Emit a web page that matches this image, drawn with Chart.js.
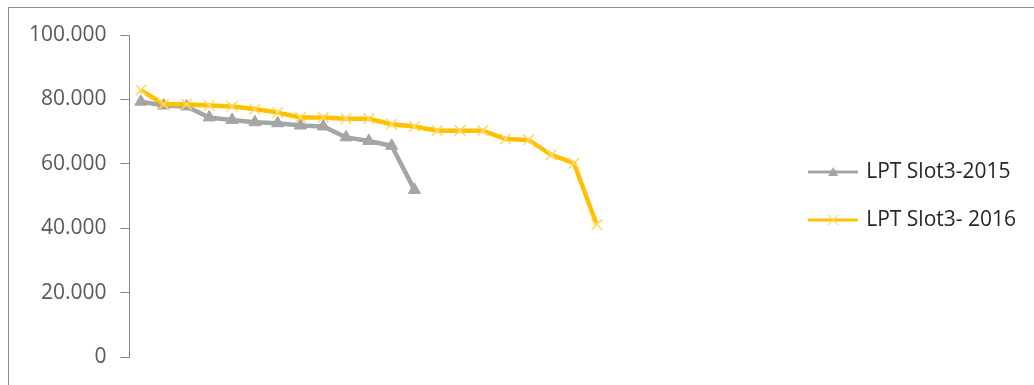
<!DOCTYPE html>
<html>
<head>
<meta charset="utf-8">
<script src="https://cdn.jsdelivr.net/npm/chart.js@4.4.1/dist/chart.umd.min.js"></script>
<style>
  html, body { margin: 0; padding: 0; background: #fff; overflow: hidden; }
  #wrap { position: relative; width: 1034px; height: 385px; }
  #frame { position: absolute; left: 8px; top: 7px; width: 1100px; height: 500px;
           border-top: 1px solid #8c8c8c; border-left: 1px solid #8c8c8c; }
  #chart { position: absolute; left: 0; top: 0; }
</style>
</head>
<body>
<div id="wrap">
  <div id="frame"></div>
  <canvas id="chart" width="1034" height="385"></canvas>
</div>
<script>
// rank positions on the x axis
const categories = [1, 2, 3, 4, 5, 6, 7, 8, 9, 10, 11, 12, 13, 14, 15, 16, 17, 18, 19, 20, 21];

const slot2015 = [79300, 78100, 77800, 74400, 73600, 72900, 72600, 71900, 71600, 68200, 67100, 65600, 51900];
const slot2016 = [82900, 78500, 78500, 78100, 77800, 77000, 75900, 74400, 74400, 74000, 74000,
                  72300, 71600, 70300, 70300, 70300, 67700, 67400, 62800, 60200, 41100];

const seriesNames = ['LPT Slot3-2015', 'LPT Slot3- 2016'];
const yTicks = [0, 20000, 40000, 60000, 80000, 100000];

const GREY   = '#a5a5a5';
const YELLOW = '#ffc000';
const FONT   = "'Open Sans', 'Liberation Sans', sans-serif";

// 12.345 style thousands separator
const fmt = v => String(v).replace(/\B(?=(\d{3})+(?!\d))/g, '.');

const toPoints = vals => vals.map((v, i) => ({ x: categories[i], y: v }));

// small line + marker picture used as the legend symbol
function legendSample(color, marker) {
  const c = document.createElement('canvas');
  c.width = 50; c.height = 16;
  const g = c.getContext('2d');
  g.strokeStyle = color;
  g.lineWidth = 3;
  g.beginPath(); g.moveTo(0, 8); g.lineTo(50, 8); g.stroke();
  if (marker === 'triangle') {
    g.fillStyle = color;
    g.beginPath(); g.moveTo(25, 3); g.lineTo(30, 12); g.lineTo(20, 12); g.closePath(); g.fill();
  } else {
    g.strokeStyle = '#ffd966';
    g.lineWidth = 1.3;
    g.beginPath();
    g.moveTo(20, 3); g.lineTo(30, 13);
    g.moveTo(30, 3); g.lineTo(20, 13);
    g.stroke();
  }
  return c;
}
const samples = [legendSample(GREY, 'triangle'), legendSample(YELLOW, 'cross')];

new Chart(document.getElementById('chart'), {
  type: 'line',
  data: {
    datasets: [
      {
        label: seriesNames[0],
        data: toPoints(slot2015),
        borderColor: GREY,
        backgroundColor: GREY,
        borderWidth: 4.5,
        pointStyle: 'triangle',
        pointRadius: 7,
        pointBackgroundColor: GREY,
        pointBorderColor: GREY,
        pointBorderWidth: 1,
        order: 1
      },
      {
        label: seriesNames[1],
        data: toPoints(slot2016),
        borderColor: YELLOW,
        backgroundColor: YELLOW,
        borderWidth: 4.5,
        pointStyle: 'crossRot',
        pointRadius: 7.5,
        pointBorderColor: '#ffd966',
        pointBorderWidth: 1.6,
        order: 0
      }
    ]
  },
  options: {
    responsive: false,
    animation: false,
    layout: { padding: { top: 35, bottom: 28, left: 0, right: 8 } },
    plugins: {
      tooltip: { enabled: false },
      legend: {
        position: 'right',
        labels: {
          usePointStyle: true,
          pointStyleWidth: 45,
          boxHeight: 16,
          padding: 27,
          color: '#262626',
          font: { family: FONT, size: 21, lineHeight: 1.2 },
          generateLabels: chart => chart.data.datasets.map((ds, i) => ({
            text: ds.label,
            pointStyle: samples[i],
            fontColor: '#262626',
            strokeStyle: 'transparent',
            fillStyle: 'transparent',
            lineWidth: 0,
            datasetIndex: i
          }))
        }
      }
    },
    scales: {
      x: {
        type: 'linear',
        display: false,
        min: 0.5,
        max: 29.2
      },
      y: {
        min: 0,
        max: 100000,
        afterFit: s => { s.width = 129.5; },
        afterBuildTicks: s => { s.ticks = yTicks.map(v => ({ value: v })); },
        border: { display: true, color: '#868686', width: 1 },
        grid: { drawOnChartArea: false, drawTicks: true, tickLength: 9, color: '#868686' },
        ticks: {
          padding: 14,
          color: '#595959',
          font: { family: FONT, size: 21 },
          callback: v => fmt(v)
        }
      }
    }
  }
});
</script>
</body>
</html>
